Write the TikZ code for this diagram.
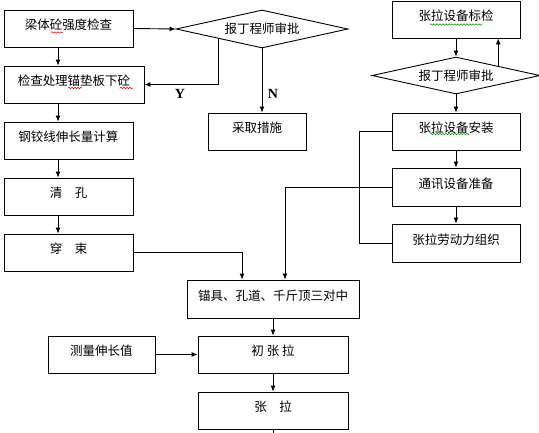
\documentclass[tikz,border=0pt]{standalone}
\usepackage{fontspec}
\newfontfamily\cjk{Noto Sans CJK SC}
\newfontfamily\lat{Liberation Serif}
\usetikzlibrary{shapes.geometric,arrows.meta,decorations.pathmorphing}
\begin{document}
\begin{tikzpicture}[x=1pt,y=-1pt,
  box/.style={draw, line width=0.9pt, inner sep=0pt, minimum height=37pt,
    font=\cjk\fontsize{12.5}{14}\selectfont, text height=7pt, text depth=5pt},
  dia/.style={draw, line width=0.9pt, diamond, aspect=4.5, inner sep=0pt,
    font=\cjk\fontsize{12.5}{14}\selectfont},
  arr/.style={line width=0.9pt, -{Latex[length=6pt,width=5pt]}},
  ln/.style={line width=0.9pt},
  yn/.style={font=\lat\bfseries\fontsize{14}{16}\selectfont, inner sep=0pt},
  wavr/.style={red, line width=0.5pt, decorate, decoration={snake,segment length=3pt,amplitude=0.8pt}},
  wavg/.style={green!60!black, line width=0.5pt, decorate, decoration={snake,segment length=3pt,amplitude=0.8pt}}
]
\useasboundingbox (0,0) rectangle (539,432);

% left column
\node[box, minimum width=129pt] (b1) at (68.5,28.5) {梁体砼强度检查};
\node[box, minimum width=140pt] (b2) at (74,84.5) {检查处理锚垫板下砼};
\node[box, minimum width=129pt] (b3) at (68.5,140.5) {钢铰线伸长量计算};
\node[box, minimum width=129pt] (b4) at (68.5,196.5) {清　孔};
\node[box, minimum width=129pt] (b5) at (68.5,252.5) {穿　束};

% first diamond
\node[dia, minimum width=172pt, minimum height=38pt] (d1) at (262,29) {报丁程师审批};
\node[box, minimum width=98pt] (cq) at (257,131.5) {采取措施};

% right column
\node[box, minimum width=128pt] (r1) at (456,19.5) {张拉设备标检};
\node[dia, minimum width=168pt, minimum height=37pt] (d2) at (456,75.5) {报丁程师审批};
\node[box, minimum width=128pt] (r2) at (456,131.5) {张拉设备安装};
\node[box, minimum width=128pt, minimum height=38pt] (r3) at (456,187) {通讯设备准备};
\node[box, minimum width=128pt, minimum height=38pt] (r4) at (456,243) {张拉劳动力组织};

% bottom
\node[box, minimum width=172pt, minimum height=38pt] (m) at (273,299) {锚具、孔道、千斤顶三对中};
\node[box, minimum width=150pt] (c1) at (273,354.5) {初 张 拉};
\node[box, minimum width=150pt] (c2) at (273,410.5) {张　拉};
\node[box, minimum width=107pt] (meas) at (101.5,354.5) {测量伸长值};

% helper coordinates
\coordinate (lx) at (58,0);
\coordinate (mx1) at (242,0);
\coordinate (mx2) at (285,0);
\coordinate (bx) at (359,0);
\coordinate (endc) at (273,440);

% left column arrows
\draw[arr] (b1.south -| lx) -- (b2.north -| lx);
\draw[arr] (b2.south -| lx) -- (b3.north -| lx);
\draw[arr] (b3.south -| lx) -- (b4.north -| lx);
\draw[arr] (b4.south -| lx) -- (b5.north -| lx);

% diamond 1
\draw[arr] (b1.east) -- (d1.west);
\draw[arr] (d1.south west) |- (b2.east);
\draw[arr] (d1.south) -- (d1.south |- cq.north);
\node[yn] (ly) at (180,94) {Y};
\node[yn] (lnn) at (273,94) {N};

% right column arrows
\draw[arr] (r1.south) -- (d2.north);
\draw[arr] (d2.north east) -- (d2.north east |- r1.south);
\draw[arr] (d2.south) -- (r2.north);
\draw[arr] (r2.south) -- (r3.north);
\draw[arr] (r3.south) -- (r4.north);
\draw[ln] (r2.west) -| (bx |- r4.west) -- (r4.west);

% into the centring box
\draw[arr] (r3.west) -| (mx2 |- m.north);
\draw[arr] (b5.east) -| (mx1 |- m.north);
\draw[arr] (m.south) -- (c1.north);
\draw[arr] (meas.east) -- (c1.west);
\draw[arr] (c1.south) -- (c2.north);
\draw[ln] (c2.south) -- (endc);

% spell-check underlines
\draw[wavr] (51,32.5) -- (63,32.5);
\draw[wavr] (68,88) -- (82,88);
\draw[wavr] (120,88) -- (133,88);
\draw[wavg] (430,24.5) -- (482,24.5);
\draw[wavg] (430,134) -- (470,134);
\end{tikzpicture}
\end{document}
